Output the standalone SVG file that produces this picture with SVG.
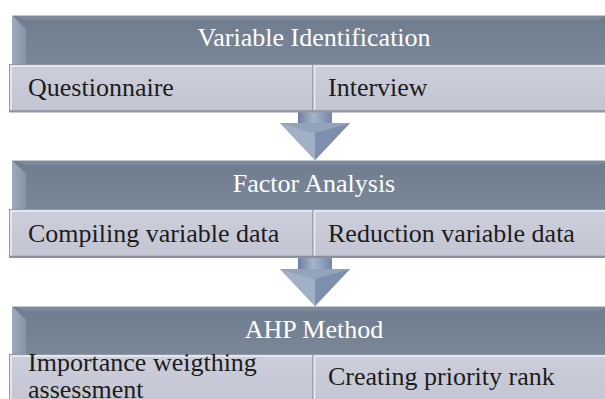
<svg xmlns="http://www.w3.org/2000/svg" width="605" height="399" viewBox="0 0 605 399">
  <defs>
    <linearGradient id="hdrFill" x1="0" y1="0" x2="0" y2="1">
      <stop offset="0" stop-color="#6f7c8e"/>
      <stop offset="1" stop-color="#7a8799"/>
    </linearGradient>
    <linearGradient id="hdrBevel" x1="0" y1="0" x2="1" y2="0">
      <stop offset="0" stop-color="#9eabbe"/>
      <stop offset="1" stop-color="#8593a7"/>
    </linearGradient>
    <linearGradient id="subFill" x1="0" y1="0" x2="0" y2="1">
      <stop offset="0" stop-color="#cdcedb"/>
      <stop offset="1" stop-color="#c4c5d2"/>
    </linearGradient>
    <linearGradient id="shaft" x1="0" y1="0" x2="1" y2="0">
      <stop offset="0" stop-color="#6c7f9f"/>
      <stop offset="0.45" stop-color="#a7b5ca"/>
      <stop offset="1" stop-color="#7286a6"/>
    </linearGradient>
    <g id="arrow">
      <rect x="298" y="0" width="34" height="14" fill="url(#shaft)"/>
      <polygon points="280,11 350,11 315,48" fill="#8797b2"/>
      <polygon points="280,11 315,21 315,48" fill="#a2b0c6"/>
      <polygon points="350,11 315,21 315,48" fill="#7d8fac"/>
      <polygon points="280,11 350,11 315,21" fill="#93a3bb"/>
    </g>
  </defs>
  <style>
    .hdr-text { font-family: "Liberation Serif", "Times New Roman", serif; font-size: 26px; fill: #ffffff; text-anchor: middle; }
    .sub-text { font-family: "Liberation Serif", "Times New Roman", serif; font-size: 26px; fill: #1c1c1c; }
    .sub { fill: url(#subFill); stroke: #9597a3; stroke-width: 1; }
    .hi { stroke: #eceef4; stroke-width: 1.5; fill: none; }
    .lo { stroke: #8a8c98; stroke-width: 1.5; fill: none; }
  </style>

  <!-- connectors between stages -->
  <g id="connectors">
    <use href="#arrow" transform="translate(0,112)"/>
    <use href="#arrow" transform="translate(0,258)"/>
  </g>

  <!-- stage 1 -->
  <g id="variable-identification">
    <rect x="12" y="15" width="600" height="49" fill="url(#hdrFill)"/>
    <polygon points="12,15 612,15 598,20 26,20" fill="#7e8a9b"/>
    <polygon points="12,15 26,29 26,64 12,64" fill="url(#hdrBevel)"/>
    <line x1="12" y1="15.5" x2="612" y2="15.5" stroke="#c3cad5" stroke-width="1"/>
    <text class="hdr-text" x="314" y="46">Variable Identification</text>
  </g>
  <g id="questionnaire">
    <rect class="sub" x="9.5" y="64.5" width="303.5" height="47.5"/>
    <polyline class="hi" points="11,111 11,66 312,66"/>
    <line class="lo" x1="10" y1="111" x2="313" y2="111"/>
    <text class="sub-text" x="28" y="96">Questionnaire</text>
  </g>
  <g id="interview">
    <rect class="sub" x="313" y="64.5" width="300" height="47.5"/>
    <polyline class="hi" points="314.5,111 314.5,66 613,66"/>
    <line class="lo" x1="313" y1="111" x2="613" y2="111"/>
    <text class="sub-text" x="328" y="96">Interview</text>
  </g>

  <!-- stage 2 -->
  <g id="factor-analysis">
    <rect x="12" y="160" width="600" height="49" fill="url(#hdrFill)"/>
    <polygon points="12,160 612,160 598,165 26,165" fill="#7e8a9b"/>
    <polygon points="12,160 26,174 26,209 12,209" fill="url(#hdrBevel)"/>
    <line x1="12" y1="160.5" x2="612" y2="160.5" stroke="#c3cad5" stroke-width="1"/>
    <text class="hdr-text" x="314" y="192">Factor Analysis</text>
  </g>
  <g id="compiling-variable-data">
    <rect class="sub" x="9.5" y="209.5" width="303.5" height="48"/>
    <polyline class="hi" points="11,256 11,211 312,211"/>
    <line class="lo" x1="10" y1="256.5" x2="313" y2="256.5"/>
    <text class="sub-text" x="28" y="242">Compiling variable data</text>
  </g>
  <g id="reduction-variable-data">
    <rect class="sub" x="313" y="209.5" width="300" height="48"/>
    <polyline class="hi" points="314.5,256 314.5,211 613,211"/>
    <line class="lo" x1="313" y1="256.5" x2="613" y2="256.5"/>
    <text class="sub-text" x="328" y="242">Reduction variable data</text>
  </g>

  <!-- stage 3 -->
  <g id="ahp-method">
    <rect x="12" y="306" width="600" height="48" fill="url(#hdrFill)"/>
    <polygon points="12,306 612,306 598,311 26,311" fill="#7e8a9b"/>
    <polygon points="12,306 26,320 26,354 12,354" fill="url(#hdrBevel)"/>
    <line x1="12" y1="306.5" x2="612" y2="306.5" stroke="#c3cad5" stroke-width="1"/>
    <text class="hdr-text" x="314" y="338">AHP Method</text>
  </g>
  <g id="importance-weigthing-assessment">
    <rect class="sub" x="9.5" y="354.5" width="303.5" height="50"/>
    <polyline class="hi" points="11,404 11,356 312,356"/>
    <text class="sub-text" x="28" y="371">Importance weigthing</text>
    <text class="sub-text" x="28" y="398">assessment</text>
  </g>
  <g id="creating-priority-rank">
    <rect class="sub" x="313" y="354.5" width="300" height="50"/>
    <polyline class="hi" points="314.5,404 314.5,356 613,356"/>
    <text class="sub-text" x="328" y="385">Creating priority rank</text>
  </g>
</svg>
